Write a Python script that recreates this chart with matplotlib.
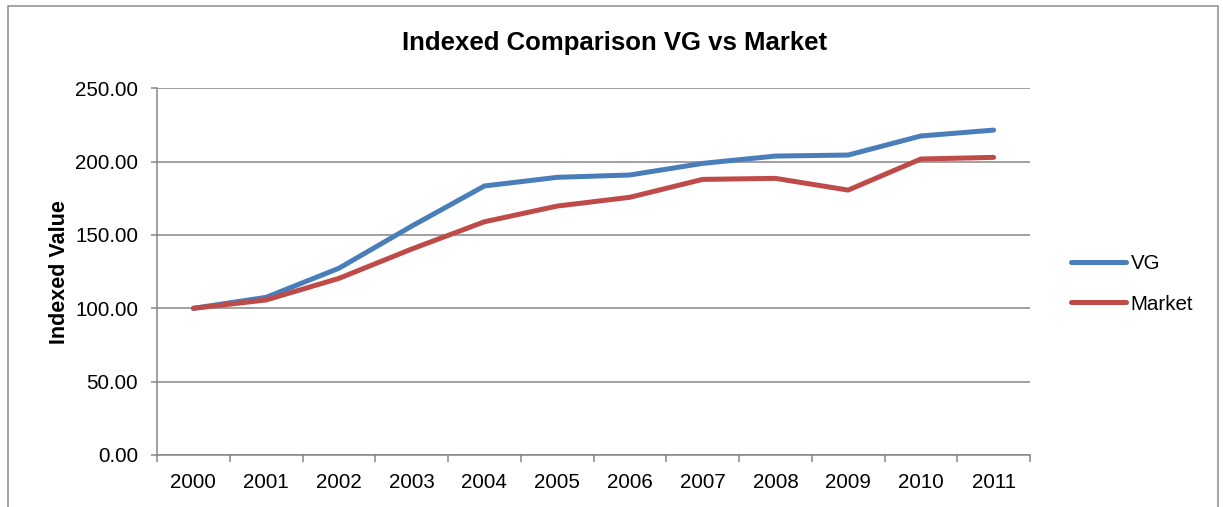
"""Indexed comparison chart, VG vs market."""
import matplotlib
matplotlib.use('Agg')
import matplotlib.pyplot as plt
import matplotlib.ticker as ticker
from matplotlib.patches import Rectangle

years = ["2000", "2001", "2002", "2003", "2004", "2005",
         "2006", "2007", "2008", "2009", "2010", "2011"]
vg = [100.0, 107.5, 127.3, 156.0, 183.4, 189.3,
      190.9, 198.8, 203.8, 204.5, 217.5, 221.5]
market = [100.0, 105.7, 120.4, 140.4, 159.0, 169.7,
          175.7, 187.9, 188.6, 180.6, 201.8, 202.9]

GRID = "#868686"
plt.rcParams['font.family'] = ['Liberation Sans', 'DejaVu Sans']

W, H = 1223, 507
fig = plt.figure(figsize=(W / 100, H / 100), dpi=100)

# chart-area border (bottom edge is cut off in the original)
fig.patches.append(Rectangle((8 / W, -0.1), (1218 - 8) / W, (H - 6) / H + 0.1,
                             transform=fig.transFigure, fill=False,
                             edgecolor="#8c8c8c", linewidth=1.1))

ax = fig.add_axes([157 / W, 1 - 455 / H, (1030 - 157) / W, (455 - 88.3) / H])

x = list(range(len(years)))
ax.plot(x, vg, color="#4A7EBB", linewidth=3.6, label="VG",
        solid_capstyle='round', solid_joinstyle='round', zorder=3)
ax.plot(x, market, color="#BE4B48", linewidth=3.6, label="Market",
        solid_capstyle='round', solid_joinstyle='round', zorder=3)

ax.set_xlim(-0.5, len(years) - 0.5)
ax.set_ylim(0, 250)
ax.yaxis.set_major_locator(ticker.MultipleLocator(50))
ax.yaxis.set_major_formatter(ticker.FormatStrFormatter('%.2f'))
ax.grid(axis='y', color=GRID, linewidth=1.1, zorder=1)
ax.set_axisbelow(True)

ax.set_xticks(x)
ax.set_xticklabels(years)
ax.set_xticks([i - 0.5 for i in range(len(years) + 1)], minor=True)
ax.tick_params(axis='x', which='major', length=0, pad=13, labelsize=14.8)
ax.tick_params(axis='x', which='minor', length=5, width=1.1, color=GRID, direction='out')
ax.tick_params(axis='y', length=4.5, width=1.1, color=GRID, pad=9, labelsize=14.8)

for side in ('top', 'right'):
    ax.spines[side].set_visible(False)
for side in ('left', 'bottom'):
    ax.spines[side].set_color(GRID)
    ax.spines[side].set_linewidth(1.1)

ax.set_ylabel("Indexed Value", fontsize=15.5, fontweight='bold', labelpad=4)
fig.text(615 / W, 1 - 43 / H, "Indexed Comparison VG vs Market",
         ha='center', va='center', fontsize=18.5, fontweight='bold')

ax.legend(loc='center left', bbox_to_anchor=(1.026, 0.467), frameon=False,
          fontsize=14.8, handlelength=2.65, handletextpad=0.25, labelspacing=1.05)

fig.savefig("out.png", dpi=100)
